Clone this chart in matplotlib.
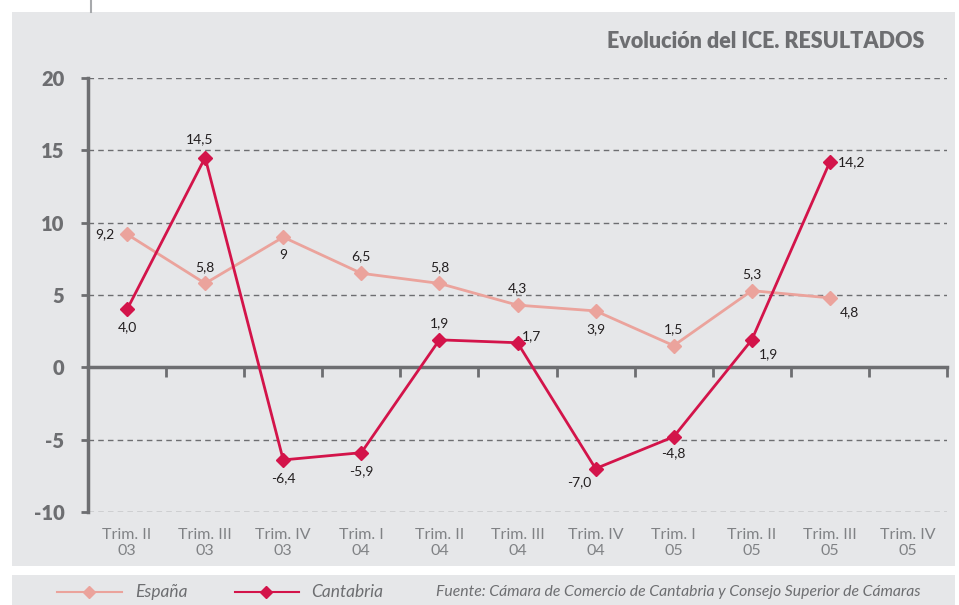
"""
Evolución del ICE. Resultados: España vs Cantabria.
"""
import matplotlib

matplotlib.use("Agg")
from matplotlib import pyplot as plt
from matplotlib.lines import Line2D
from matplotlib.patches import Rectangle

CATEGORIES = [
    "Trim. II\n03", "Trim. III\n03", "Trim. IV\n03", "Trim. I\n04", "Trim. II\n04",
    "Trim. III\n04", "Trim. IV\n04", "Trim. I\n05", "Trim. II\n05", "Trim. III\n05",
    "Trim. IV\n05",
]
ESPANA = [9.2, 5.8, 9.0, 6.5, 5.8, 4.3, 3.9, 1.5, 5.3, 4.8]
CANTABRIA = [4.0, 14.5, -6.4, -5.9, 1.9, 1.7, -7.0, -4.8, 1.9, 14.2]
ESPANA_LABELS = ["9,2", "5,8", "9", "6,5", "5,8", "4,3", "3,9", "1,5", "5,3", "4,8"]
CANTABRIA_LABELS = ["4,0", "14,5", "-6,4", "-5,9", "1,9", "1,7", "-7,0", "-4,8", "1,9", "14,2"]

# label offsets in points (dx, dy)
ESPANA_OFFSETS = [(-16, 0), (0, 12), (0, -13), (0, 12), (0, 12), (0, 12), (0, -13), (0, 12), (0, 12), (14, -10)]
CANTABRIA_OFFSETS = [(0, -13), (-4, 13), (0, -13), (0, -13), (0, 12), (10, 5), (-12, -10), (0, -12), (12, -10), (16, 0)]

BG = "#E6E7E9"
GRAY = "#6D6E71"
PINK = "#EBA39C"
RED = "#D3144A"

W, H = 959, 605
fig = plt.figure(figsize=(W / 100, H / 100), dpi=100)
fig.patch.set_facecolor("white")


def px(x0, y0, x1, y1):
    return (x0 / W, 1 - y1 / H, (x1 - x0) / W, (y1 - y0) / H)


# background panels
for box in [px(12, 12, 955, 566), px(12, 575, 955, 610)]:
    fig.patches.append(Rectangle(box[:2], box[2], box[3], transform=fig.transFigure,
                                 facecolor=BG, edgecolor="none", zorder=-5))
fig.add_artist(Line2D([91 / W, 91 / W], [1, 1 - 12 / H], color="#A7A9AC", lw=1.5))

ax = fig.add_axes(px(88, 78, 947, 512))
ax.set_zorder(2)
ax.set_facecolor("none")
n = len(CATEGORIES)
ax.set_xlim(0, n)
ax.set_ylim(-10, 20)

ax.set_yticks(range(-10, 21, 5))
ax.set_yticklabels([str(v) for v in range(-10, 21, 5)], fontsize=14.5, fontweight="heavy",
                   color=GRAY, family="Lato")
ax.tick_params(axis="y", length=5, width=2, color=GRAY, direction="out", pad=12)
for v in range(-10, 21, 5):
    if v != 0:
        ax.axhline(v, color="#6D6E71", lw=1, ls=(0, (4, 3)), zorder=1)

for s in ["top", "right"]:
    ax.spines[s].set_visible(False)
ax.spines["left"].set_color(GRAY)
ax.spines["left"].set_linewidth(2.5)
ax.spines["bottom"].set_position(("data", 0))
ax.spines["bottom"].set_color(GRAY)
ax.spines["bottom"].set_linewidth(2.5)
ax.set_xticks(range(n + 1))
ax.set_xticklabels([])
ax.tick_params(axis="x", length=7, width=2, color=GRAY, direction="out")

xs = [i + 0.5 for i in range(n)]
for x, lab in zip(xs, CATEGORIES):
    ax.text(x, -11.1, lab, ha="center", va="top", fontsize=11.5, color="#808285",
            family="Lato", linespacing=1.15)

ax.plot(xs[:len(ESPANA)], ESPANA, color=PINK, lw=2, marker="D", ms=7, zorder=3, clip_on=False)
ax.plot(xs[:len(CANTABRIA)], CANTABRIA, color=RED, lw=2, marker="D", ms=7, zorder=4, clip_on=False)

for x, y, lab, off in zip(xs, ESPANA, ESPANA_LABELS, ESPANA_OFFSETS):
    ax.annotate(lab, (x, y), xytext=off, textcoords="offset points", ha="center",
                va="center", fontsize=10, color="#231F20", family="Lato")
for x, y, lab, off in zip(xs, CANTABRIA, CANTABRIA_LABELS, CANTABRIA_OFFSETS):
    ax.annotate(lab, (x, y), xytext=off, textcoords="offset points", ha="center",
                va="center", fontsize=10, color="#231F20", family="Lato")

fig.text(924 / W, 1 - 42 / H, "Evolución del ICE. RESULTADOS", ha="right", va="center",
         fontsize=15.5, fontweight="heavy", color=GRAY, family="Lato")

# legend band
ly = 1 - 592 / H
fig.add_artist(Line2D([57 / W, 122 / W], [ly, ly], color=PINK, lw=1.5))
fig.add_artist(Line2D([89 / W], [ly], color=PINK, marker="D", ms=6))
fig.text(135 / W, ly, "España", ha="left", va="center", fontsize=12.5, style="italic",
         color=GRAY, family="Lato")
fig.add_artist(Line2D([235 / W, 299 / W], [ly, ly], color=RED, lw=1.5))
fig.add_artist(Line2D([266 / W], [ly], color=RED, marker="D", ms=6))
fig.text(311 / W, ly, "Cantabria", ha="left", va="center", fontsize=12.5, style="italic",
         color=GRAY, family="Lato")
fig.text(436 / W, ly,
         "Fuente: Cámara de Comercio de Cantabria y Consejo Superior de Cámaras",
         ha="left", va="center", fontsize=11.3, style="italic", color=GRAY, family="Lato")

fig.savefig("out.png", dpi=100)
